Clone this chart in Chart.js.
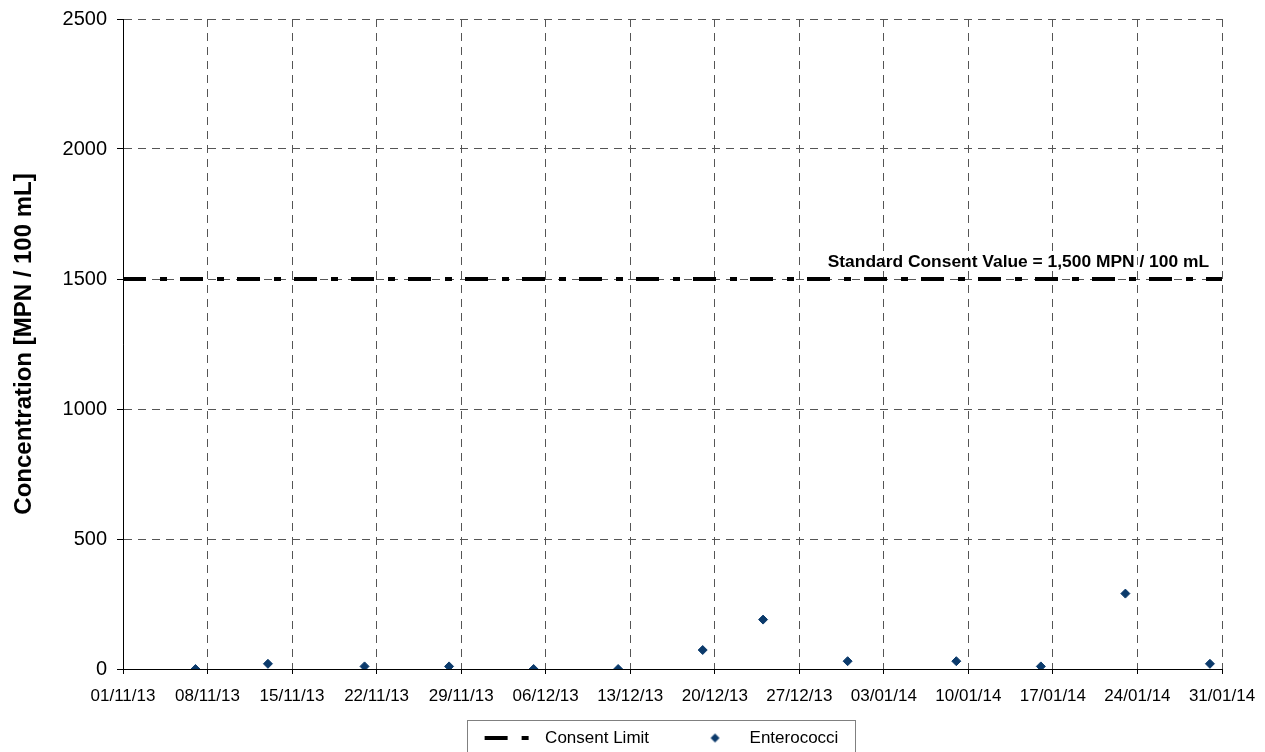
<!DOCTYPE html>
<html lang="en">
<head>
    <meta charset="UTF-8">
    <title>Enterococci - Concentration</title>
    <script src="https://cdn.jsdelivr.net/npm/chart.js"></script>
    <style>
        body { margin: 0; background: #ffffff; }
        #wrap { width: 1265px; height: 752px; }
    </style>
</head>
<body>
    <div id="wrap">
        <canvas id="concChart" width="1265" height="752"></canvas>
    </div>
    <script>
        // Sample data
        const sampleDates = ['07/11/13', '13/11/13', '21/11/13', '28/11/13', '05/12/13', '12/12/13', '19/12/13',
                             '24/12/13', '31/12/13', '09/01/14', '16/01/14', '23/01/14', '30/01/14'];
        const enterococci = [0, 20, 10, 10, 0, 0, 73, 190, 30, 30, 10, 290, 20];

        const xTickLabels = ['01/11/13', '08/11/13', '15/11/13', '22/11/13', '29/11/13', '06/12/13', '13/12/13',
                             '20/12/13', '27/12/13', '03/01/14', '10/01/14', '17/01/14', '24/01/14', '31/01/14'];
        const yTickValues = [0, 500, 1000, 1500, 2000, 2500];

        const consentLimit = 1500;
        const consentText = 'Standard Consent Value = 1,500 MPN / 100 mL';

        const fontFamily = '"Liberation Sans", Arial, sans-serif';
        const pointColor = '#0b3a6b';
        const limitDash = [23, 14, 7, 13];

        // dd/mm/yy -> days since first tick
        function toDay(str) {
            const [d, m, y] = str.split('/').map(Number);
            const [d0, m0, y0] = xTickLabels[0].split('/').map(Number);
            return (Date.UTC(2000 + y, m - 1, d) - Date.UTC(2000 + y0, m0 - 1, d0)) / 86400000;
        }

        const tickDays = xTickLabels.map(toDay);
        const points = sampleDates.map((d, i) => ({ x: toDay(d), y: enterococci[i] }));
        const limitLine = [
            { x: tickDays[0], y: consentLimit },
            { x: tickDays[tickDays.length - 1], y: consentLimit }
        ];

        // small diamond for the legend (pointStyleWidth would stretch rectRot)
        const legendDiamond = document.createElement('canvas');
        legendDiamond.width = 11;
        legendDiamond.height = 11;
        (function () {
            const c = legendDiamond.getContext('2d');
            c.fillStyle = pointColor;
            c.beginPath();
            c.moveTo(5.5, 1);
            c.lineTo(10, 5.5);
            c.lineTo(5.5, 10);
            c.lineTo(1, 5.5);
            c.closePath();
            c.fill();
        })();

        // nudge the legend: it sits partly below the canvas in the original
        const legendShift = { x: -11, y: -17.5 };

        const extrasPlugin = {
            id: 'extras',
            afterLayout(chart) {
                const lg = chart.legend;
                lg.top += legendShift.y;
                lg.bottom += legendShift.y;
                lg.left += legendShift.x;
                lg.right += legendShift.x;
            },
            afterDatasetsDraw(chart) {
                // label above the consent line
                const ctx = chart.ctx;
                const x = chart.scales.x;
                const y = chart.scales.y;
                ctx.save();
                ctx.font = 'bold 17.4px ' + fontFamily;
                ctx.fillStyle = '#000';
                ctx.textAlign = 'right';
                ctx.textBaseline = 'middle';
                ctx.fillText(consentText, x.right - 13, y.getPixelForValue(consentLimit) - 17);
                ctx.restore();
            },
            afterDraw(chart) {
                // frame round the legend
                const boxes = chart.legend.legendHitBoxes;
                if (!boxes || !boxes.length) return;
                const last = boxes[boxes.length - 1];
                const left = Math.round(boxes[0].left - 18);
                const right = Math.round(last.left + last.width + 17);
                const top = Math.round(boxes[0].top - 10);
                const ctx = chart.ctx;
                ctx.save();
                ctx.strokeStyle = '#808080';
                ctx.lineWidth = 1;
                ctx.strokeRect(left + 0.5, top + 0.5, right - left, 100);
                ctx.restore();
            }
        };

        const gridDash = [8, 6];

        new Chart(document.getElementById('concChart'), {
            type: 'scatter',
            data: {
                datasets: [
                    {
                        type: 'line',
                        label: 'Consent Limit',
                        data: limitLine,
                        borderColor: '#000000',
                        backgroundColor: '#000000',
                        borderWidth: 4,
                        borderDash: limitDash,
                        pointRadius: 0,
                        pointStyle: 'line',
                        fill: false
                    },
                    {
                        label: 'Enterococci',
                        data: points,
                        pointStyle: 'rectRot',
                        pointRadius: 4.5,
                        backgroundColor: pointColor,
                        borderColor: pointColor,
                        borderWidth: 1
                    }
                ]
            },
            options: {
                responsive: false,
                animation: false,
                events: [],
                layout: {
                    padding: { top: 19, right: 43, left: 0, bottom: -22 }
                },
                scales: {
                    x: {
                        type: 'linear',
                        min: tickDays[0],
                        max: tickDays[tickDays.length - 1],
                        afterBuildTicks: scale => {
                            scale.ticks = tickDays.map(v => ({ value: v }));
                        },
                        afterFit: scale => {
                            scale.height = 38;
                            scale.paddingLeft = 0;
                            scale.paddingRight = 0;
                        },
                        ticks: {
                            color: '#000',
                            font: { family: fontFamily, size: 17 },
                            padding: 12,
                            maxRotation: 0,
                            autoSkip: false,
                            callback: (value) => xTickLabels[tickDays.indexOf(value)]
                        },
                        grid: {
                            color: '#555',
                            tickBorderDash: [],
                            tickColor: '#000',
                            tickLength: 5
                        },
                        border: { display: true, color: '#000', width: 1, dash: gridDash }
                    },
                    y: {
                        min: yTickValues[0],
                        max: yTickValues[yTickValues.length - 1],
                        afterBuildTicks: scale => {
                            scale.ticks = yTickValues.map(v => ({ value: v }));
                        },
                        afterFit: scale => {
                            scale.width = 123;
                            scale.paddingTop = 0;
                            scale.paddingBottom = 0;
                        },
                        ticks: {
                            color: '#000',
                            font: { family: fontFamily, size: 20 },
                            padding: 10,
                            callback: (value) => String(value)
                        },
                        grid: {
                            color: '#555',
                            tickBorderDash: [],
                            tickColor: '#000',
                            tickLength: 6
                        },
                        border: { display: true, color: '#000', width: 1, dash: gridDash },
                        title: {
                            display: true,
                            text: 'Concentration [MPN / 100 mL]',
                            color: '#000',
                            font: { family: fontFamily, size: 24, weight: 'bold' },
                            padding: { top: 10, bottom: 0 }
                        }
                    }
                },
                plugins: {
                    legend: {
                        position: 'bottom',
                        fullSize: false,
                        labels: {
                            usePointStyle: true,
                            pointStyleWidth: 52,
                            boxHeight: 7,
                            padding: 40,
                            color: '#000',
                            font: { family: fontFamily, size: 17 },
                            generateLabels: chart => {
                                const items = Chart.defaults.plugins.legend.labels.generateLabels(chart);
                                items[0].lineDash = [limitDash[0], limitDash[1], limitDash[2], 100];
                                items[0].lineWidth = 4;
                                items[1].pointStyle = legendDiamond;
                                items[1].rotation = 0;
                                return items;
                            }
                        }
                    },
                    tooltip: { enabled: false }
                }
            },
            plugins: [extrasPlugin]
        });
    </script>
</body>
</html>
